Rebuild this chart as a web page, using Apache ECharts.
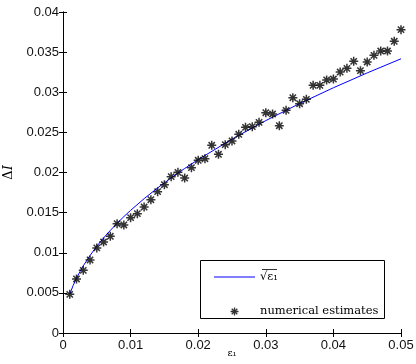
<!DOCTYPE html>
<html>
<head>
<meta charset="utf-8">
<script src="https://cdn.jsdelivr.net/npm/echarts@6/dist/echarts.min.js"></script>
<style>
  html, body { margin: 0; padding: 0; background: #fff; }
  #chart { width: 416px; height: 364px; }
</style>
</head>
<body>
<div id="chart"></div>
<script>
// numerical estimates, eps1 = 0.001 ... 0.050
const epsValues = [
  0.001, 0.002, 0.003, 0.004, 0.005, 0.006, 0.007, 0.008, 0.009, 0.010,
  0.011, 0.012, 0.013, 0.014, 0.015, 0.016, 0.017, 0.018, 0.019, 0.020,
  0.021, 0.022, 0.023, 0.024, 0.025, 0.026, 0.027, 0.028, 0.029, 0.030,
  0.031, 0.032, 0.033, 0.034, 0.035, 0.036, 0.037, 0.038, 0.039, 0.040,
  0.041, 0.042, 0.043, 0.044, 0.045, 0.046, 0.047, 0.048, 0.049, 0.050
];
const estimateValues = [
  0.00482, 0.00673, 0.00781, 0.0091, 0.0106, 0.01134, 0.01205, 0.01362, 0.01346, 0.01437,
  0.01487, 0.0157, 0.01661, 0.01761, 0.01848, 0.01948, 0.02002, 0.01931, 0.0206, 0.02152,
  0.02172, 0.02339, 0.02227, 0.02347, 0.02393, 0.02476, 0.02563, 0.02571, 0.02625, 0.02745,
  0.02729, 0.02583, 0.02775, 0.02932, 0.02857, 0.02912, 0.03086, 0.03086, 0.03153, 0.03165,
  0.03252, 0.03298, 0.03385, 0.03269, 0.03377, 0.0346, 0.03514, 0.03514, 0.03635, 0.0378
];

// fitted curve
const curveX = [0.001, 0.0015, 0.002, 0.0025, 0.003, 0.004, 0.005, 0.006, 0.007, 0.008,
  0.009, 0.010, 0.012, 0.014, 0.016, 0.018, 0.020, 0.025, 0.030, 0.035, 0.040, 0.045, 0.050];
const curveY = [0.00483, 0.00592, 0.00683, 0.00764, 0.00837, 0.00966, 0.0108, 0.01184, 0.01278, 0.01367,
  0.0145, 0.01528, 0.01674, 0.01808, 0.01933, 0.0205, 0.02161, 0.02416, 0.02647, 0.02859, 0.03056, 0.03241, 0.03417];

const xTicks = [0, 0.01, 0.02, 0.03, 0.04, 0.05];
const yTicks = [0, 0.005, 0.01, 0.015, 0.02, 0.025, 0.03, 0.035, 0.04];

const chart = echarts.init(document.getElementById("chart"));

const asterisk = "path://M0,5L10,5M5,0L5,10M1.5,1.5L8.5,8.5M8.5,1.5L1.5,8.5";
const legendLine = "path://M0,0L41,0L41,1L0,1Z";
const tickFont = { fontFamily: "Liberation Sans", fontSize: 13, color: "#111" };

const baseAxis = {
  axisLine: { show: true, lineStyle: { color: "#000", width: 1 } },
  axisTick: { show: true, inside: true, length: 4, lineStyle: { color: "#000" } },
  splitLine: { show: false },
};

const fmt = (list) => (v) => {
  const r = +v.toFixed(3);
  return list.includes(r) ? String(r) : "";
};

const option = {
  animation: false,
  backgroundColor: "#fff",
  grid: { left: 63, right: 15, top: 12, bottom: 31, containLabel: false, outerBoundsMode: "none" },
  xAxis: [
    {
      ...baseAxis,
      type: "value",
      min: 0,
      max: 0.05,
      interval: 0.01,
      position: "bottom",
      axisLabel: { ...tickFont, margin: 6, formatter: fmt(xTicks) },
      name: "ε\u2081",
      nameLocation: "middle",
      nameGap: 15,
      nameMoveOverlap: false,
      nameTextStyle: { fontFamily: "DejaVu Serif", fontSize: 10, color: "#000" },
    },
    {
      ...baseAxis,
      type: "value",
      min: 0,
      max: 0.05,
      interval: 0.01,
      position: "top",
      axisLabel: { show: false },
    },
  ],
  yAxis: [
    {
      ...baseAxis,
      type: "value",
      min: 0,
      max: 0.04,
      interval: 0.005,
      position: "left",
      axisLabel: { ...tickFont, margin: 4, formatter: fmt(yTicks) },
      name: "{d|Δ}{i|I}",
      nameLocation: "middle",
      nameGap: 35,
      nameTextStyle: {
        rich: {
          d: { fontFamily: "DejaVu Serif", fontSize: 13, color: "#000" },
          i: { fontFamily: "DejaVu Serif", fontStyle: "italic", fontSize: 13, color: "#000" },
        },
      },
    },
    {
      ...baseAxis,
      type: "value",
      min: 0,
      max: 0.04,
      interval: 0.005,
      position: "right",
      axisLabel: { show: false },
    },
  ],
  legend: {
    orient: "vertical",
    left: 209,
    top: 266,
    itemWidth: 41,
    itemHeight: 8,
    itemGap: 22,
    symbolKeepAspect: true,
    textStyle: { fontFamily: "DejaVu Serif", fontSize: 11.5, color: "#000" },
    data: [
      { name: "√ε\u2081", icon: legendLine, itemStyle: { color: "#0000ff" } },
      { name: "numerical estimates", icon: asterisk, itemStyle: { color: "none", borderColor: "#000", borderWidth: 1.3 } },
    ],
  },
  graphic: [
    {
      type: "rect",
      shape: { x: 200.5, y: 260.5, width: 184, height: 58 },
      style: { fill: "none", stroke: "#000", lineWidth: 1 },
      z: 10,
    },
    {
      // overline of the square root in the legend
      type: "line",
      shape: { x1: 262, y1: 269.5, x2: 277, y2: 269.5 },
      style: { stroke: "#000", lineWidth: 0.8 },
      z: 10,
    },
  ],
  series: [
    {
      name: "√ε\u2081",
      type: "line",
      data: curveX.map((x, i) => [x, curveY[i]]),
      smooth: false,
      symbol: "none",
      lineStyle: { color: "#0000ff", width: 1 },
      itemStyle: { color: "#0000ff" },
    },
    {
      name: "numerical estimates",
      type: "scatter",
      data: epsValues.map((x, i) => [x, estimateValues[i]]),
      symbol: asterisk,
      symbolSize: 9,
      itemStyle: { color: "none", borderColor: "#000", borderWidth: 1.5 },
      z: 3,
    },
  ],
};

chart.setOption(option);
</script>
</body>
</html>
